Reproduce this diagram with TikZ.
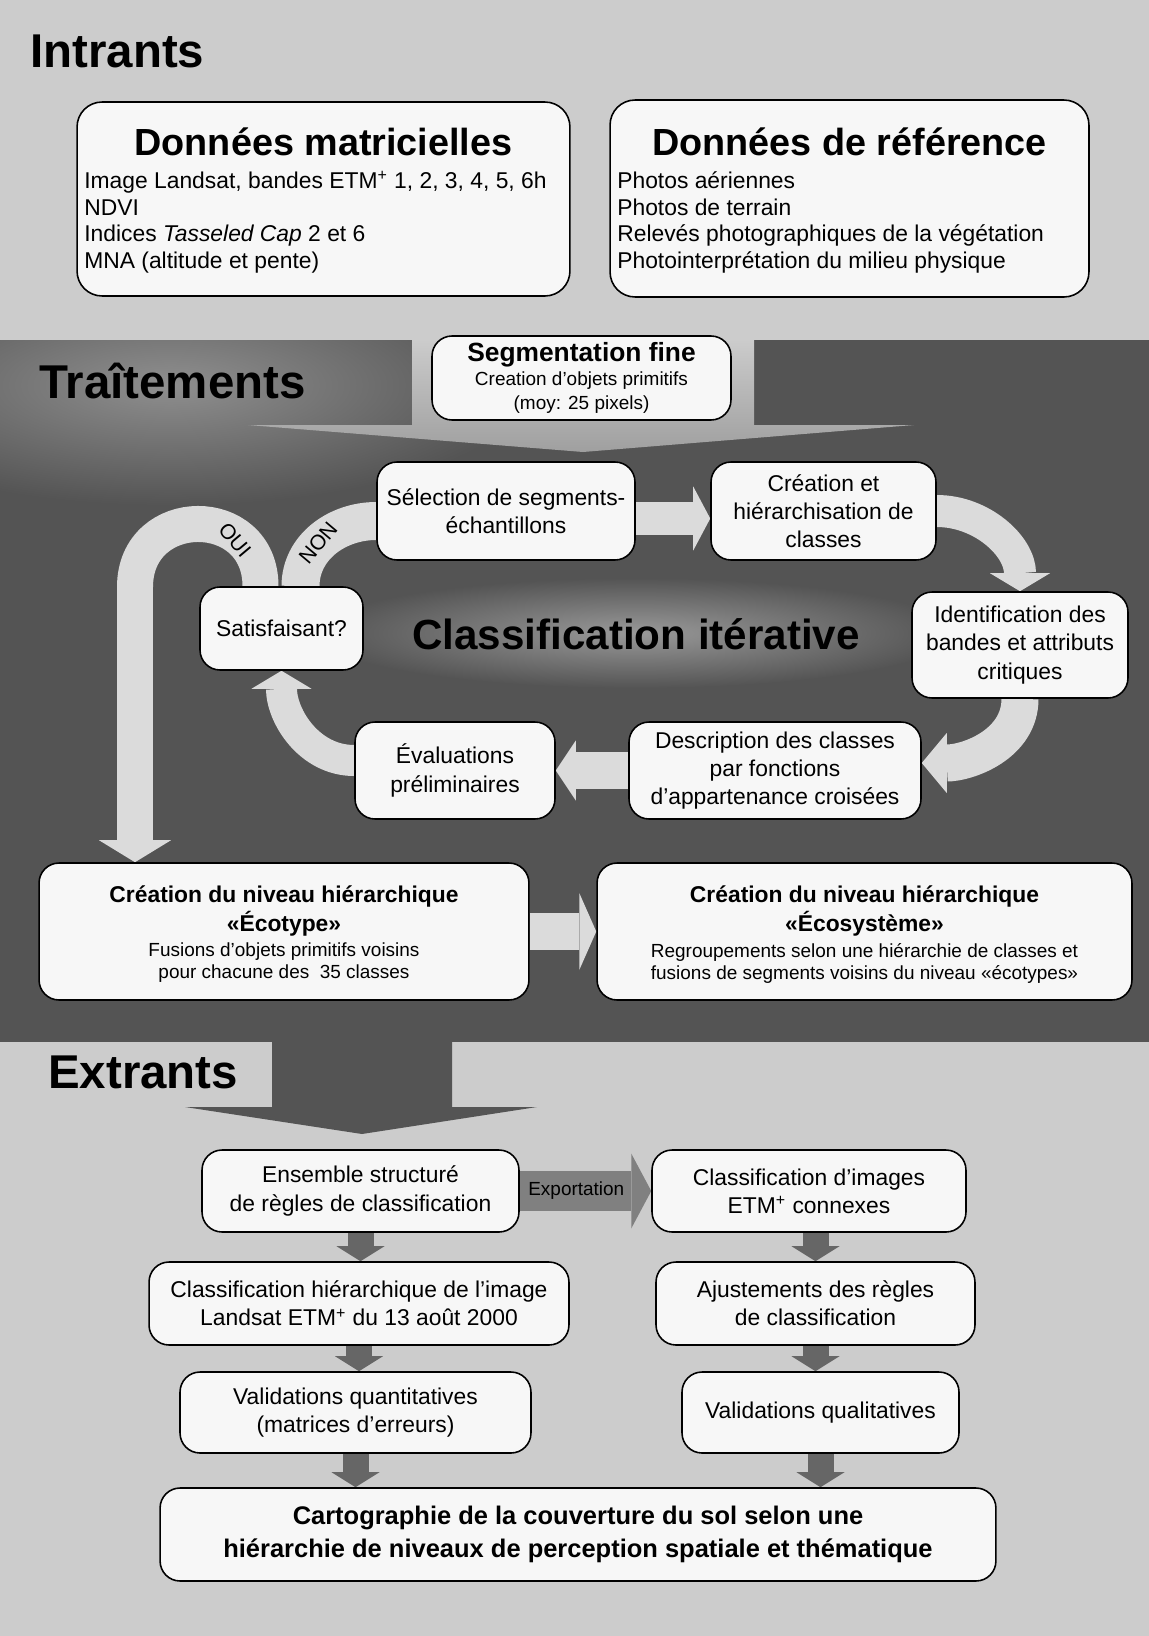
\documentclass[tikz,border=0pt]{standalone}
\usepackage{fontspec}
\setmainfont{Liberation Sans}
\usetikzlibrary{arrows.meta}
\definecolor{bgl}{gray}{0.80}
\definecolor{bgd}{gray}{0.33}
\definecolor{glw}{gray}{0.56}
\definecolor{glh}{gray}{0.60}
\definecolor{boxc}{gray}{0.97}
\definecolor{arrl}{gray}{0.86}
\definecolor{arrd}{gray}{0.40}
\definecolor{arrx}{gray}{0.50}
\pgfdeclarelayer{back}
\pgfsetlayers{back,main}

\begin{document}
\begin{tikzpicture}[x=0.02cm, y=-0.02cm,
  box/.style={draw, line width=0.9pt, fill=boxc, rounded corners=0.4cm, inner sep=0pt, align=center, font=\fontsize{13}{16}\selectfont},
  bigbox/.style={box, rounded corners=0.5cm},
  head/.style={inner sep=0pt, font=\fontsize{27}{30}\selectfont\bfseries},
  ttl/.style={inner sep=0pt, font=\fontsize{21.5}{24}\selectfont\bfseries},
  btxt/.style={inner sep=0pt, align=center, font=\fontsize{13}{16.5}\selectfont\bfseries},
  stxt/.style={inner sep=0pt, align=center, font=\fontsize{10.8}{12.5}\selectfont},
  ltxt/.style={inner sep=0pt, align=left, font=\fontsize{13}{15.3}\selectfont},
  lbl/.style={inner sep=0pt, font=\fontsize{12}{14}\selectfont},
  band/.style={draw=arrl, line width=0.7cm},
  bandh/.style={band, -{Triangle[length=0.36cm, width=1.2cm, line width=0pt]}},
  darr/.style={draw=arrd, line width=0.52cm, -{Triangle[length=0.3cm, width=0.96cm, line width=0pt]}},
  exarr/.style={draw=arrx, line width=0.8cm, -{Triangle[length=0.4cm, width=1.5cm, line width=0pt]}}
]
\useasboundingbox (0,0) rectangle (1149,1636);

\node[head, anchor=base west] (hin) at (30,67) {Intrants};
\node[bigbox, minimum width=9.86cm, minimum height=3.88cm] (in1) at (323.5,199) {};
\node[ttl, anchor=base] (in1t) at (323.5,155) {Données matricielles};
\node[ltxt, anchor=north west] (in1l) at (84,171) {Image Landsat, bandes ETM\textsuperscript{+} 1, 2, 3, 4, 5, 6h\\NDVI\\Indices \textit{Tasseled Cap} 2 et 6\\MNA (altitude et pente)};
\node[bigbox, minimum width=9.58cm, minimum height=3.94cm] (in2) at (849.5,198.5) {};
\node[ttl, anchor=base] (in2t) at (849.5,155) {Données de référence};
\node[ltxt, anchor=north west] (in2l) at (617,171) {Photos aériennes\\Photos de terrain\\Relevés photographiques de la végétation\\Photointerprétation du milieu physique};

\node[head, anchor=base west] (htr) at (39,398) {Traîtements};
\node[head, font=\fontsize{24}{27}\selectfont\bfseries, anchor=base] (hci) at (636,649) {Classification itérative};

\node[box, minimum width=5.98cm, minimum height=1.68cm, font=\fontsize{10.8}{13.5}\selectfont] (tr0) at (581.5,378) {{\fontsize{15}{18}\selectfont\bfseries Segmentation fine}\\Creation d’objets primitifs\\(moy: 25 pixels)};
\node[box, minimum width=5.16cm, minimum height=1.96cm] (tr1) at (506,511) {Sélection de segments-\\échantillons};
\node[box, minimum width=4.5cm, minimum height=1.96cm] (tr2) at (823.5,511) {Création et\\hiérarchisation de\\classes};
\node[box, minimum width=4.32cm, minimum height=2.12cm] (tr3) at (1020,645) {Identification des\\bandes et attributs\\critiques};
\node[box, minimum width=5.84cm, minimum height=1.94cm] (tr4) at (775,770.5) {Description des classes\\par fonctions\\d’appartenance croisées};
\node[box, minimum width=4cm, minimum height=1.94cm] (tr5) at (455,770.5) {Évaluations\\préliminaires};
\node[box, minimum width=3.26cm, minimum height=1.66cm] (tr6) at (281.5,628.5) {Satisfaisant?};
\node[lbl, rotate=-50] (oui1) at (235,540) {OUI};
\node[lbl, rotate=50] (non1) at (318,543) {NON};
\coordinate (oui) at (135,587);

\node[box, minimum width=9.8cm, minimum height=2.74cm] (tr7) at (284,931.5) {};
\node[btxt] (tr7a) at (284,910.5) {Création du niveau hiérarchique\\«Écotype»};
\node[stxt] (tr7b) at (284,963) {Fusions d’objets primitifs voisins\\pour chacune des~~35 classes};
\node[box, minimum width=10.7cm, minimum height=2.74cm] (tr8) at (864.5,931.5) {};
\node[btxt] (tr8a) at (864.5,910.5) {Création du niveau hiérarchique\\«Écosystème»};
\node[stxt] (tr8b) at (864.5,963) {Regroupements selon une hiérarchie de classes et\\fusions de segments voisins du niveau «écotypes»};

\node[head, anchor=base west] (hex) at (48,1088) {Extrants};
\node[box, minimum width=6.34cm, minimum height=1.64cm] (ex1) at (360.5,1191) {Ensemble structuré\\de règles de classification};
\node[box, minimum width=6.28cm, minimum height=1.64cm] (ex2) at (809,1191) {Classification d’images\\ETM\textsuperscript{+} connexes};
\node[box, minimum width=8.4cm, minimum height=1.66cm] (ex3) at (359,1303.5) {Classification hiérarchique de l’image\\Landsat ETM\textsuperscript{+} du 13 août 2000};
\node[box, minimum width=6.38cm, minimum height=1.66cm] (ex4) at (815.5,1303.5) {Ajustements des règles\\de classification};
\node[box, minimum width=7.02cm, minimum height=1.62cm] (ex5) at (355.5,1412.5) {Validations quantitatives\\(matrices d’erreurs)};
\node[box, minimum width=5.54cm, minimum height=1.62cm] (ex6) at (820.5,1412.5) {Validations qualitatives};
\node[box, minimum width=16.72cm, minimum height=1.86cm, font=\fontsize{14.5}{18.7}\selectfont\bfseries] (ex7) at (578,1534.5) {Cartographie de la couverture du sol selon une\\hiérarchie de niveaux de perception spatiale et thématique};

\begin{pgfonlayer}{back}
\fill[bgl] (0,0) rectangle (1149,1636);
\fill[bgd] (0,340) rectangle (1149,1042);
\begin{scope}
\clip (0,340) rectangle (1149,1042);
\shade[inner color=glw, outer color=bgd] (170,385) ellipse [x radius=360, y radius=120];
\shade[inner color=glh, outer color=bgd] (636,633) ellipse [x radius=320, y radius=55];
\end{scope}
\shade[top color=bgl, bottom color=gray!75] (412,339) -- (754,339) -- (754,425) -- (914,425) -- (583,452) -- (248,425) -- (412,425) -- cycle;
\fill[bgd] (272,1041) -- (452,1041) -- (452,1107) -- (537,1107) -- (362,1134) -- (185,1107) -- (272,1107) -- cycle;
\draw[bandh, line width=0.66cm, -{Triangle[length=0.34cm, width=1.28cm, line width=0pt]}] ([yshift=-0.15cm]tr1.east) -- ([yshift=-0.15cm]tr2.west);
\draw[bandh, line width=0.64cm] (tr2.east) to[out=0, in=90] (tr3.north);
\draw[bandh, line width=0.74cm, -{Triangle[length=0.5cm, width=1.2cm, line width=0pt]}] (tr3.south) to[out=-90, in=0] ([yshift=0.15cm]tr4.east);
\draw[bandh, line width=0.74cm, -{Triangle[length=0.4cm, width=1.2cm, line width=0pt]}] (tr4.west) -- (tr5.east);
\draw[bandh, line width=0.62cm] ([yshift=0.2cm]tr5.west) to[out=180, in=-90] (tr6.south);
\draw[band, line width=0.76cm] ([xshift=0.38cm]tr6.north) to[out=90, in=180] ([yshift=-0.2cm]tr1.west);
\draw[bandh, line width=0.72cm, -{Triangle[length=0.44cm, width=1.44cm, line width=0pt]}] ([xshift=-0.42cm]tr6.north) to[out=90, in=90, looseness=1.7] (oui) -- (oui |- tr7.north);
\draw[bandh, line width=0.74cm, -{Triangle[length=0.34cm, width=1.54cm, line width=0pt]}] (tr7.east) -- (tr8.west);
\draw[exarr] (ex1.east) -- node[pos=0.43, inner sep=0pt, font=\fontsize{10.8}{13}\selectfont] (exl) {Exportation} (ex2.west);
\draw[darr] (ex1.south) -- (ex1.south |- ex3.north);
\draw[darr] (ex3.south) -- (ex3.south |- ex5.north);
\draw[darr] (ex5.south) -- (ex5.south |- ex7.north);
\draw[darr] (ex2.south -| ex4.north) -- (ex4.north);
\draw[darr] (ex4.south) -- (ex4.south |- ex6.north);
\draw[darr] (ex6.south) -- (ex6.south |- ex7.north);
\end{pgfonlayer}
\end{tikzpicture}
\end{document}
